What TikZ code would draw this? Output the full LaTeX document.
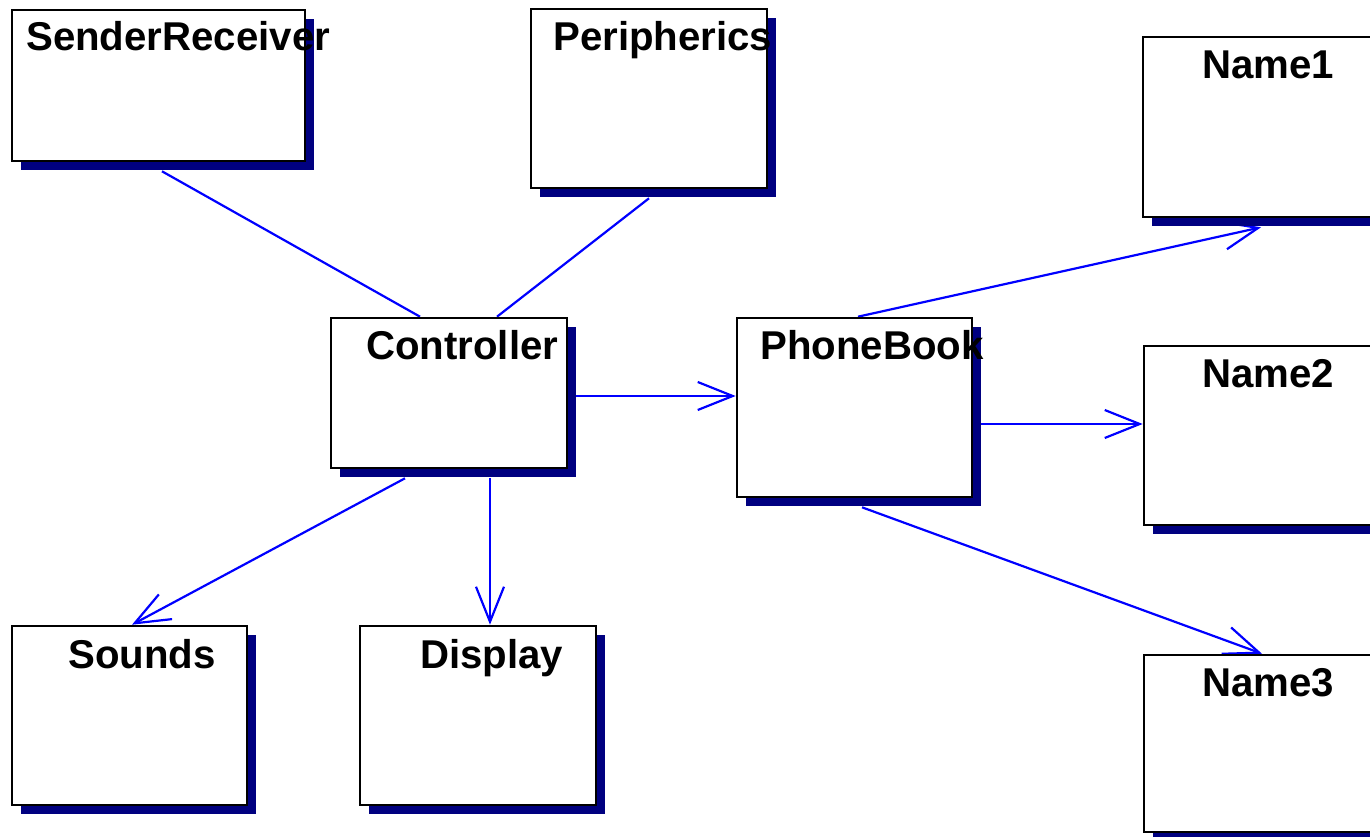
\documentclass[tikz,border=0pt]{standalone}
\usepackage{fontspec}
\setmainfont{Liberation Sans}
\usetikzlibrary{shadows, arrows.meta, backgrounds}
\definecolor{shadownavy}{RGB}{0,0,128}
\definecolor{linkblue}{RGB}{0,0,255}

\begin{document}
\begin{tikzpicture}[x=1pt, y=-1pt,
        box/.style={draw, rectangle, line width=2.6pt, fill=white, inner sep=0,
                drop shadow={shadow xshift=9pt, shadow yshift=-9pt, fill=shadownavy, opacity=1}},
        title/.style={anchor=base west, inner sep=0, font=\fontsize{40.2}{48}\selectfont\bfseries},
        link/.style={draw=linkblue, line width=2.2pt},
        flow/.style={link, -{Straight Barb[length=35pt, width=28pt]}}]
        \useasboundingbox (0,0) rectangle (1370,837);

%% boxes
        \node [box, minimum width=293pt, minimum height=151pt] (sender) at (158.5,85.5) {};
        \node [box, minimum width=236pt, minimum height=179pt] (periph) at (649,98.5) {};
        \node [box, minimum width=236pt, minimum height=180pt] (name1) at (1261,127) {};
        \node [box, minimum width=236pt, minimum height=150pt] (ctrl) at (449,393) {};
        \node [box, minimum width=235pt, minimum height=179pt] (book) at (854.5,407.5) {};
        \node [box, minimum width=236pt, minimum height=179pt] (name2) at (1262,435.5) {};
        \node [box, minimum width=235pt, minimum height=179pt] (sounds) at (129.5,715.5) {};
        \node [box, minimum width=236pt, minimum height=179pt] (display) at (478,715.5) {};
        \node [box, minimum width=236pt, minimum height=177pt] (name3) at (1262,743.5) {};

%% titles
        \node [title] (sendertitle) at (26,51) {SenderReceiver};
        \node [title] (periphtitle) at (553,51) {Peripherics};
        \node [title] (name1title) at (1202,79) {Name1};
        \node [title] (ctrltitle) at (366,359) {Controller};
        \node [title] (booktitle) at (760,359) {PhoneBook};
        \node [title] (name2title) at (1202,387) {Name2};
        \node [title] (soundstitle) at (68,668) {Sounds};
        \node [title] (displaytitle) at (420,668) {Display};
        \node [title] (name3title) at (1202,696) {Name3};

%% paths
        \begin{scope}[on background layer]
        \draw [link] ([xshift=3.5pt, yshift=-9pt]sender.south) -- ([xshift=-29pt]ctrl.north);
        \draw [link] ([yshift=-9pt]periph.south) -- ([xshift=48pt]ctrl.north);
        \draw [flow] ([xshift=8pt, yshift=-3pt]ctrl.east) -- ([yshift=11.5pt]book.west);
        \draw [flow] ([xshift=-44pt, yshift=-9pt]ctrl.south) -- ([xshift=2.5pt]sounds.north);
        \draw [flow] ([xshift=41pt, yshift=-9pt]ctrl.south) -- ([xshift=12pt]display.north);
        \draw [flow] ([xshift=3.5pt]book.north) -- ([yshift=-9pt]name1.south);
        \draw [flow] ([xshift=8pt, yshift=-16.5pt]book.east) -- ([yshift=11.5pt]name2.west);
        \draw [flow] ([xshift=7.5pt, yshift=-9pt]book.south) -- (name3.north);
        \end{scope}
\end{tikzpicture}
\end{document}
